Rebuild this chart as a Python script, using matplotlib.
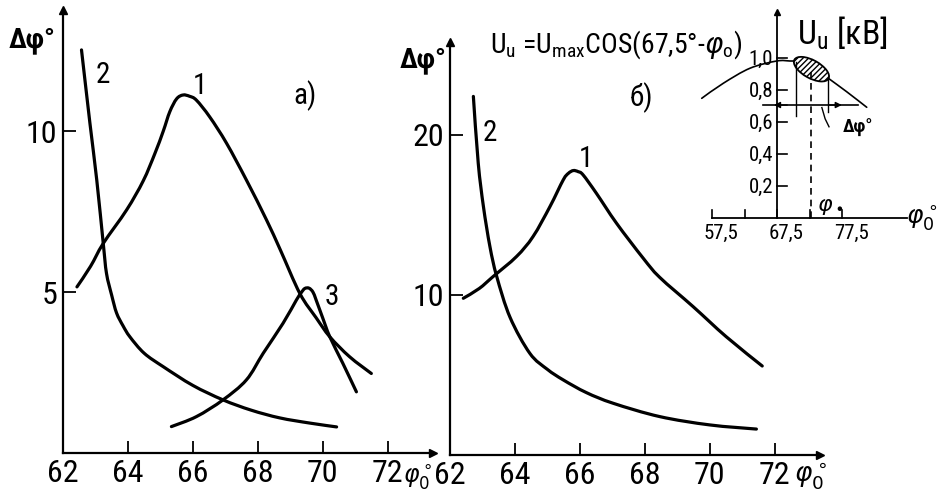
import numpy as np
import matplotlib
matplotlib.use('Agg')
import matplotlib.pyplot as plt
from matplotlib import font_manager as fm
from matplotlib.patches import Ellipse, PathPatch
from matplotlib.path import Path
from matplotlib.transforms import ScaledTranslation

# pick a narrow face if one is installed
names = {f.name for f in fm.fontManager.ttflist}
narrow = [n for n in ['Liberation Sans Narrow', 'Roboto Condensed', 'Open Sans Condensed',
                      'DejaVu Sans Condensed'] if n in names]
dv_cond = any(f.name == 'DejaVu Sans' and str(f.stretch) in ('condensed', '300')
              for f in fm.fontManager.ttflist)
if narrow:
    plt.rcParams['font.family'] = [narrow[0], 'DejaVu Sans']
elif dv_cond:
    plt.rcParams['font.family'] = ['DejaVu Sans']
    plt.rcParams['font.stretch'] = 'condensed'
else:
    plt.rcParams['font.family'] = ['Roboto', 'DejaVu Sans']
plt.rcParams['mathtext.fontset'] = 'dejavusans'

# panel a)
a1_x = [62.43, 62.85, 63.24, 63.96, 64.47, 64.83, 65.09, 65.29, 65.5, 65.7, 65.9, 66.11,
        66.52, 67.04, 67.65, 68.27, 68.7, 69.3, 69.8, 70.22, 70.83, 71.5]
a1_y = [5.16, 5.8, 6.51, 7.55, 8.45, 9.3, 10.0, 10.6, 11.0, 11.12, 11.08, 10.96,
        10.44, 9.62, 8.48, 7.24, 6.3, 4.95, 4.2, 3.61, 2.99, 2.47]
a2_x = [62.57, 62.83, 63.04, 63.24, 63.34, 63.5, 63.65, 63.85, 64.06, 64.5, 65.09, 66.0,
        66.93, 67.8, 68.68, 69.6, 70.43]
a2_y = [12.52, 10.24, 8.48, 6.51, 5.58, 4.9, 4.35, 3.95, 3.61, 3.1, 2.68, 2.1,
        1.65, 1.33, 1.09, 0.93, 0.81]
a3_x = [65.34, 66.11, 66.93, 67.65, 68.17, 68.78, 69.19, 69.34, 69.45, 69.58, 69.7,
        69.8, 70.0, 70.22, 70.62, 71.04]
a3_y = [0.82, 1.13, 1.65, 2.27, 3.1, 4.03, 4.75, 4.98, 5.11, 5.12, 5.0,
        4.75, 4.2, 3.61, 2.79, 1.9]

# panel б)
b1_x = [62.41, 62.9, 63.33, 64.05, 64.56, 65.08, 65.49, 65.65, 65.8, 65.95, 66.1, 66.51,
        67.13, 67.95, 68.46, 69.49, 70.51, 71.62]
b1_y = [9.79, 10.4, 11.15, 12.4, 13.65, 15.52, 17.19, 17.6, 17.77, 17.7, 17.5, 16.35,
        14.48, 12.3, 11.1, 9.27, 7.39, 5.56]
b2_x = [62.72, 62.87, 63.03, 63.23, 63.44, 63.85, 64.46, 65.0, 65.49, 66.2, 67.03,
        68.46, 70.0, 71.44]
b2_y = [22.4, 18.23, 15.52, 13.02, 11.15, 8.6, 6.35, 5.35, 4.69, 3.9, 3.23,
        2.4, 1.88, 1.62]

x_ticks = [62, 64, 66, 68, 70, 72]
a_yticks = [5, 10]
b_yticks = [10, 20]

# inset: U_u vs phi0
cos_x = [55.92, 59.24, 63.35, 67.45, 69.5, 71.04, 73.2, 75.4, 78.22, 81.3]
cos_y = [0.748, 0.842, 0.936, 0.981, 0.981, 0.977, 0.94, 0.873, 0.789, 0.692]
in_xticks = [57.5, 62.5, 67.5, 72.5, 77.5]
in_xlabels = ['57,5', '', '67,5', '', '77,5']
in_yticks = [0.2, 0.4, 0.6, 0.8, 1.0]
in_ylabels = ['0,2', '0,4', '0,6', '0,8', '1,0']
phi0 = 72.8

W, H = 947, 492
fig = plt.figure(figsize=(W / 100, H / 100), dpi=100)


def px_axes(x0, y0, x1, y1):
    # pixel box (left, top, right, bottom) -> figure axes
    return fig.add_axes([x0 / W, 1 - y1 / H, (x1 - x0) / W, (y1 - y0) / H])


def style_main(ax, xmax, ymax, yticks):
    ax.set_xlim(62, xmax)
    ax.set_ylim(0, ymax)
    for s in ['top', 'right']:
        ax.spines[s].set_visible(False)
    for s in ['left', 'bottom']:
        ax.spines[s].set_linewidth(1.6)
    ax.set_xticks(x_ticks)
    ax.set_yticks(yticks)
    ax.tick_params(direction='in', length=9, width=1.3, labelsize=23, pad=4)
    ax.patch.set_alpha(0)
    ax.plot(1, 0, '>k', ms=6, transform=ax.transAxes, clip_on=False)
    ax.plot(0, 1, '^k', ms=6, transform=ax.transAxes, clip_on=False)


def smooth(ax, xs, ys, lw=2.3):
    # draw a smooth curve through the points (Catmull-Rom as cubic Beziers)
    p = np.column_stack([xs, ys]).astype(float)
    q = np.vstack([p[:1], p, p[-1:]])
    verts, codes = [p[0]], [Path.MOVETO]
    for i in range(len(p) - 1):
        c1 = q[i + 1] + (q[i + 2] - q[i]) / 6
        c2 = q[i + 2] - (q[i + 3] - q[i + 1]) / 6
        verts += [c1, c2, q[i + 2]]
        codes += [Path.CURVE4] * 3
    ax.add_patch(PathPatch(Path(verts, codes), fill=False, edgecolor='k', lw=lw,
                           capstyle='round', joinstyle='round'))


def fit_width(txt, target_px):
    fig.canvas.draw()
    w = txt.get_window_extent().width
    txt.set_fontsize(txt.get_fontsize() * target_px / w)


ax1 = px_axes(63, 10, 433, 453)
style_main(ax1, 73.4, 13.76, a_yticks)
smooth(ax1, a1_x, a1_y)
smooth(ax1, a2_x, a2_y)
smooth(ax1, a3_x, a3_y)
ax1.text(63.23, 11.74, '2', fontsize=21, ha='center', va='center')
ax1.text(66.22, 11.4, '1', fontsize=21, ha='center', va='center')
ax1.text(70.28, 4.84, '3', fontsize=21, ha='center', va='center')
ax1.text(69.45, 11.1, 'a)', fontsize=21, ha='center', va='center')

ax2 = px_axes(450, 42, 820, 455)
style_main(ax2, 73.4, 25.8, b_yticks)
smooth(ax2, b1_x, b1_y)
smooth(ax2, b2_x, b2_y)
ax2.text(63.23, 20.1, '2', fontsize=21, ha='center', va='center')
ax2.text(66.2, 18.5, '1', fontsize=21, ha='center', va='center')
ax2.text(67.9, 22.3, 'б)', fontsize=21, ha='center', va='center')

fig.text(32 / W, 1 - 40 / H, 'Δφ°', fontsize=20, ha='center', va='center', fontweight='bold')
fig.text(423 / W, 1 - 60 / H, 'Δφ°', fontsize=20, ha='center', va='center', fontweight='bold')
fig.text(418 / W, 1 - 477 / H, r'$\varphi_0^\circ$', fontsize=17, ha='center', va='center')
fig.text(810 / W, 1 - 477 / H, r'$\varphi_0^\circ$', fontsize=19, ha='center', va='center')

formula = fig.text(490 / W, 1 - 45 / H,
                   r'U$_\mathregular{u}$ =U$_\mathregular{max}$COS(67,5°-$\varphi_\mathregular{o}$)',
                   fontsize=19, ha='left', va='center')

# inset
ax3 = px_axes(700, 5, 910, 220)
ax3.set_xlim(55.65, 87.96)
ax3.set_ylim(-0.0125, 1.331)
ax3.axis('off')
ax3.plot([57.5, 87.5], [0, 0], 'k', lw=1.3)
ax3.plot([67.5, 67.5], [0, 1.29], 'k', lw=1.3)
ax3.plot(67.5, 1.29, '^k', ms=4)
for t, lab in zip(in_xticks, in_xlabels):
    ax3.plot([t, t], [0, 0.05], 'k', lw=1.2)
    ax3.text(t + 1.4, -0.095, lab, fontsize=15, ha='center', va='center')
for t, lab in zip(in_yticks, in_ylabels):
    ax3.plot([67.5, 69.0], [t, t], 'k', lw=1.2)
    ax3.text(66.9, t - 0.01, lab, fontsize=15, ha='right', va='center', clip_on=False)
smooth(ax3, cos_x, cos_y, lw=1.2)
ax3.plot([phi0, phi0], [0, 0.91], 'k', lw=1.2, ls=(0, (4, 3)))
ax3.plot([70.4, 70.4], [0.64, 0.975], 'k', lw=1.0)
ax3.plot([75.3, 75.3], [0.66, 0.86], 'k', lw=1.0)
ax3.plot([65.3, 80.0], [0.706, 0.706], 'k', lw=1.2)
ax3.annotate('', xy=(66.6, 0.706), xytext=(69.5, 0.706),
             arrowprops=dict(arrowstyle='-|>', color='k', lw=1.0, mutation_scale=9))
ax3.annotate('', xy=(77.9, 0.706), xytext=(75.0, 0.706),
             arrowprops=dict(arrowstyle='-|>', color='k', lw=1.0, mutation_scale=9))
blob = Ellipse((0, 0), 0.39, 0.18, angle=-29, facecolor='white', edgecolor='k',
               hatch='//////', lw=1.3,
               transform=fig.dpi_scale_trans + ScaledTranslation(72.8, 0.93, ax3.transData))
ax3.add_patch(blob)
ax3.plot([74.4, 74.9, 75.5], [0.69, 0.62, 0.57], 'k', lw=1.0)
ax3.text(80.0, 0.56, 'Δφ°', fontsize=13, ha='center', va='center', fontweight='bold')
ax3.text(75.7, 0.07, r'$\varphi_\bullet$', fontsize=16, ha='center', va='center')
ax3.text(87.3, 0.0, r'$\varphi_0^\circ$', fontsize=18, ha='left', va='center', clip_on=False)
unit = ax3.text(797 / W, 1 - 33 / H, 'U$_\\mathregular{u}$ [кВ]', fontsize=19,
                ha='left', va='center', transform=fig.transFigure)

fit_width(formula, 252)
fit_width(unit, 91)

fig.savefig('out.png', dpi=100)
